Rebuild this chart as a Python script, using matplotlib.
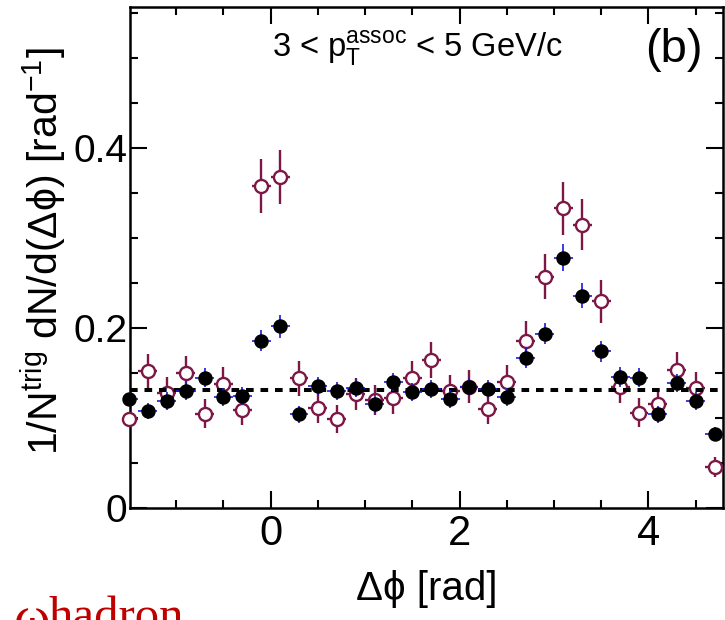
import matplotlib
matplotlib.use("Agg")
import matplotlib.pyplot as plt
from matplotlib.ticker import MultipleLocator

# ========== DATA ==========
dphi = [-1.5, -1.3, -1.1, -0.9, -0.7, -0.5, -0.3, -0.1, 0.1, 0.3, 0.5, 0.7, 0.9, 1.1, 1.3, 1.5,
        1.7, 1.9, 2.1, 2.3, 2.5, 2.7, 2.9, 3.1, 3.3, 3.5, 3.7, 3.9, 4.1, 4.3, 4.5, 4.7]

# filled black points (blue error bars)
filled_y = [0.121, 0.108, 0.119, 0.130, 0.145, 0.123, 0.125, 0.186, 0.202, 0.104, 0.136, 0.130,
            0.133, 0.116, 0.140, 0.129, 0.132, 0.121, 0.134, 0.132, 0.123, 0.167, 0.194, 0.278,
            0.236, 0.174, 0.146, 0.145, 0.104, 0.139, 0.119, 0.082]
filled_err = [0.010, 0.009, 0.010, 0.010, 0.011, 0.010, 0.010, 0.012, 0.013, 0.009, 0.010, 0.010,
              0.010, 0.010, 0.010, 0.010, 0.010, 0.010, 0.010, 0.010, 0.010, 0.011, 0.012, 0.015,
              0.014, 0.012, 0.011, 0.011, 0.009, 0.010, 0.010, 0.008]

# open maroon points
open_y = [0.099, 0.152, 0.128, 0.150, 0.105, 0.138, 0.109, 0.358, 0.368, 0.144, 0.111, 0.099,
          0.127, 0.120, 0.122, 0.144, 0.164, 0.130, 0.135, 0.110, 0.140, 0.186, 0.257, 0.333,
          0.315, 0.230, 0.135, 0.106, 0.116, 0.153, 0.133, 0.046]
open_err = [0.016, 0.019, 0.018, 0.019, 0.016, 0.019, 0.017, 0.030, 0.030, 0.019, 0.017, 0.016,
            0.018, 0.017, 0.017, 0.019, 0.020, 0.018, 0.018, 0.017, 0.019, 0.022, 0.025, 0.029,
            0.028, 0.024, 0.018, 0.016, 0.017, 0.020, 0.018, 0.011]

bin_half = 0.1
pedestal = 0.131

y_ticks = [0, 0.2, 0.4]
y_ticklabels = ["0", "0.2", "0.4"]
x_ticks = [0, 2, 4]

# ========== STYLE ==========
plt.rcParams["font.family"] = ["Liberation Sans", "DejaVu Sans"]
plt.rcParams["mathtext.fontset"] = "custom"
plt.rcParams["mathtext.rm"] = "Liberation Sans"
plt.rcParams["mathtext.it"] = "Liberation Sans:italic"
plt.rcParams["mathtext.bf"] = "Liberation Sans:bold"

MAROON = "#7d1846"
BLUE = "#1a1ad8"

fig = plt.figure(figsize=(7.25, 6.2), dpi=100)
ax = fig.add_axes([130 / 725, 1 - 508 / 620, (723 - 130) / 725, (508 - 7) / 620])

# open points (error bars stop at the hollow marker, like ROOT)
ax.errorbar(dphi, open_y, yerr=open_err, xerr=bin_half, fmt="none",
            ecolor=MAROON, elinewidth=1.7, capsize=0, zorder=2)
ax.plot(dphi, open_y, "o", ms=9.4, mfc="white", mec=MAROON, mew=1.7,
        clip_on=False, zorder=3)

# pedestal line
ax.axhline(pedestal, color="black", lw=2.9, ls=(0, (1.9, 1.7)), zorder=4)

# filled points
ax.errorbar(dphi, filled_y, yerr=filled_err, xerr=bin_half, fmt="none",
            ecolor=BLUE, elinewidth=1.2, capsize=0, zorder=5)
ax.plot(dphi, filled_y, "o", ms=9.4, color="black", mec="black",
        clip_on=False, zorder=6)

ax.set_xlim(-1.49, 4.79)
ax.set_ylim(0, 0.557)

ax.set_xticks(x_ticks)
ax.set_xticklabels([str(t) for t in x_ticks], fontsize=30)
ax.xaxis.set_minor_locator(MultipleLocator(0.5))
ax.set_yticks(y_ticks)
ax.set_yticklabels(y_ticklabels, fontsize=28)
ax.yaxis.set_minor_locator(MultipleLocator(0.05))

ax.tick_params(which="both", direction="in", top=True, right=True, width=1.5)
ax.tick_params(which="major", length=12)
ax.tick_params(which="minor", length=6)
ax.tick_params(axis="x", which="major", pad=4)
ax.tick_params(axis="y", which="major", pad=2)
for sp in ax.spines.values():
    sp.set_linewidth(1.8)

# ========== TEXT ==========
fig.text(272 / 725, 1 - 57 / 620,
         r"3 < $\mathrm{p}_{\mathrm{T}}^{\mathrm{assoc}}$ < 5 GeV/c",
         fontsize=23.5, ha="left", va="baseline")
fig.text(645 / 725, 1 - 62 / 620, "(b)", fontsize=34, ha="left", va="baseline")

fig.text(427 / 725, 1 - 600 / 620, "Δϕ [rad]", fontsize=29, ha="center", va="baseline")
fig.text(44 / 725, 1 - 251 / 620,
         r"1/N$^{\mathrm{trig}}$ dN/d(Δϕ) [rad$^{\mathrm{-1}}$]",
         fontsize=29.5, rotation=90, ha="center", va="center")

# cut-off label from the neighbouring panel
fig.text(14 / 725, 1 - 636 / 620, "ω", fontsize=40, color="#c00000",
         family=["Liberation Serif", "DejaVu Serif"], ha="left", va="baseline")
fig.text(49 / 725, 1 - 630 / 620, "hadron", fontsize=35, color="#c00000",
         family=["Liberation Serif", "DejaVu Serif"], ha="left", va="baseline")

fig.savefig("out.png", dpi=100)
